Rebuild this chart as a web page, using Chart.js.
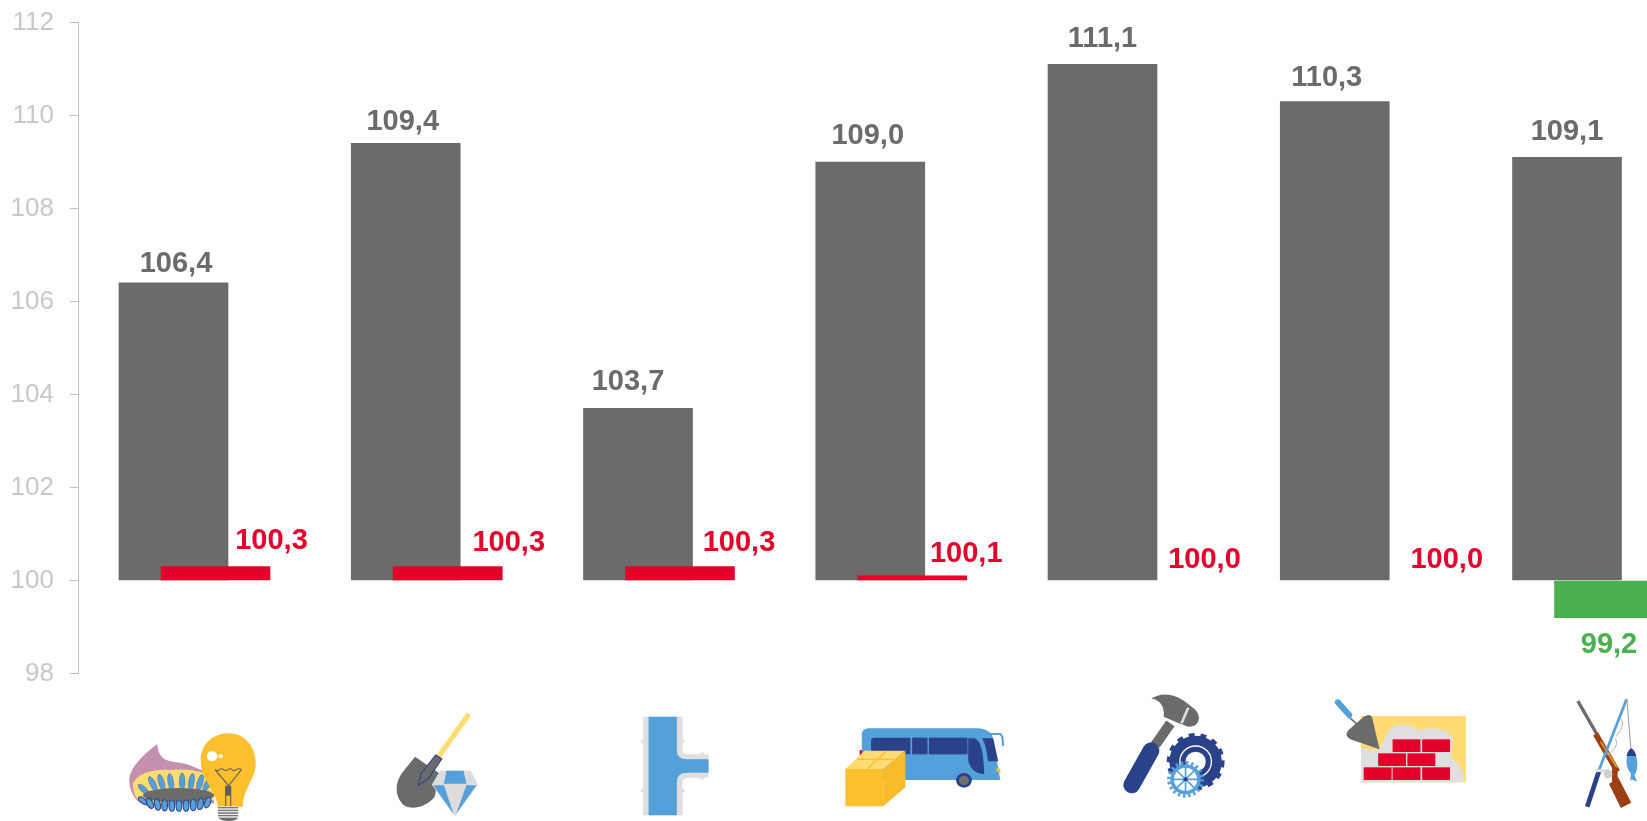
<!DOCTYPE html>
<html>
<head>
<meta charset="utf-8">
<title>Indices</title>
<script src="https://cdn.jsdelivr.net/npm/chart.js@4"></script>
<style>
    html, body { margin: 0; padding: 0; background: #fff; overflow: hidden; }
    #wrap { position: relative; width: 1647px; height: 821px; }
    #chart { position: absolute; left: 0; top: 0; }
    #icons { position: absolute; left: 0; top: 0; pointer-events: none; }
</style>
</head>
<body>
<div id="wrap">
    <canvas id="chart" width="1647" height="821"></canvas>

    <!-- Sector pictograms, coordinates are in crop space -->
    <svg id="icons" width="1647" height="821" viewBox="0 0 1647 821">
        <g transform="translate(0,640) scale(0.35714,0.33333)">
            <!-- gas burner -->
            <path fill="#c490ae" d="M440 312C400 345 360 385 362 425C365 465 385 490 410 497L600 490L590 395C560 395 540 375 510 370C480 362 445 370 440 312Z"/>
            <path fill="#ffdc73" d="M372 430C385 400 430 385 480 390C530 385 570 395 600 410V480L400 495C380 480 372 455 372 430Z"/>
            <g fill="#54a0da" stroke="#2a4289" stroke-width="1">
                <ellipse cx="402" cy="448" rx="8" ry="20" transform="rotate(-45 402 448)"/>
                <ellipse cx="428" cy="432" rx="8" ry="24" transform="rotate(-25 428 432)"/>
                <ellipse cx="452" cy="428" rx="8" ry="26" transform="rotate(-15 452 428)"/>
                <ellipse cx="478" cy="426" rx="8" ry="26" transform="rotate(-8 478 426)"/>
                <ellipse cx="510" cy="425" rx="8" ry="26"/>
                <ellipse cx="536" cy="426" rx="8" ry="26" transform="rotate(8 536 426)"/>
                <ellipse cx="560" cy="428" rx="8" ry="25" transform="rotate(15 560 428)"/>
                <ellipse cx="580" cy="434" rx="8" ry="22" transform="rotate(25 580 434)"/>
            </g>
            <ellipse cx="500" cy="466" rx="100" ry="22" fill="#6b6b6b"/>
            <g fill="#54a0da" stroke="#2a4289" stroke-width="3">
                <ellipse cx="400" cy="482" rx="7" ry="15" transform="rotate(-50 400 482)"/>
                <ellipse cx="420" cy="490" rx="8" ry="16" transform="rotate(-25 420 490)"/>
                <ellipse cx="441" cy="494" rx="8" ry="17" transform="rotate(-10 441 494)"/>
                <ellipse cx="461" cy="496" rx="8" ry="17"/>
                <ellipse cx="481" cy="497" rx="8" ry="17"/>
                <ellipse cx="501" cy="497" rx="8" ry="17"/>
                <ellipse cx="521" cy="497" rx="8" ry="17"/>
                <ellipse cx="541" cy="495" rx="8" ry="17"/>
                <ellipse cx="561" cy="492" rx="8" ry="17" transform="rotate(10 561 492)"/>
                <ellipse cx="581" cy="488" rx="8" ry="16" transform="rotate(20 581 488)"/>
            </g>
            <!-- bulb -->
            <path fill="#fcc02e" d="M640 280C690 280 716 325 716 370C716 420 680 445 680 500H610C605 450 562 420 562 360C562 315 595 280 640 280Z"/>
            <circle cx="594" cy="349" r="15" fill="#fff"/>
            <circle cx="618" cy="349" r="6" fill="#fff"/>
            <path fill="none" stroke="#5d5d5d" stroke-width="3" d="M602 389Q608 394 614 389T626 389T638 389T650 389T662 389T676 389L640 437L602 389ZM632 437V500M646 437V500"/>
            <rect x="632" y="437" width="14" height="30" fill="#5d5d5d"/>
            <rect x="610" y="499" width="57" height="38" fill="#e8e8e8"/>
            <path stroke="#7a7a7a" stroke-width="4" d="M610 503H667M610 511H667M610 519H667M610 527H667"/>
            <path fill="#6b6b6b" d="M612 533H666Q660 543 640 543T612 533Z"/>

            <!-- shovel and diamond -->
            <path stroke="#ffdc73" stroke-width="15" d="M1313 222L1228 350"/>
            <path fill="#6b6b6b" d="M1162 350L1230 400L1217 470C1190 505 1150 510 1130 495C1105 470 1105 430 1125 400Z"/>
            <path fill="#6b6b6b" stroke="#2a4289" stroke-width="3" d="M1220 345L1237 357L1200 415L1171 436L1178 402Z"/>
            <path fill="#dcdcdc" d="M1232 392H1318L1338 434L1273 530L1209 434Z"/>
            <path fill="#54a0da" d="M1250 392H1298L1306 431H1243ZM1213 436H1243L1270 522ZM1306 436H1334L1277 522Z"/>
        </g>

        <g transform="translate(560,660) scale(0.35714,0.33333)">
            <!-- pipe -->
            <g fill="#dfdfdf">
                <rect x="233" y="170" width="110" height="296"/>
                <path d="M343 265Q343 283 360 283H416V353H360Q343 353 343 371Z"/>
                <circle cx="232" cy="244" r="6"/><circle cx="343" cy="244" r="6"/>
                <circle cx="232" cy="392" r="6"/><circle cx="343" cy="392" r="6"/>
                <circle cx="398" cy="283" r="6"/><circle cx="398" cy="353" r="6"/>
            </g>
            <path fill="#54a0da" d="M248 170H327V270Q327 298 355 298H416V338H355Q327 338 327 366V466H248Z"/>

            <!-- bus and parcel -->
            <rect x="839" y="270" width="7" height="22" fill="#e4002b"/>
            <path fill="#54a0da" d="M845 360V225Q845 205 865 205H1170Q1195 205 1210 225L1233 360Z"/>
            <path fill="none" stroke="#54a0da" stroke-width="6" stroke-linecap="round" d="M1205 222H1232Q1241 225 1240 256"/>
            <g fill="#2a4289">
                <path d="M871 283V243Q871 233 881 233H981V283Z"/>
                <rect x="986" y="233" width="43" height="50"/>
                <rect x="1033" y="233" width="108" height="50"/>
                <path d="M1143 235H1160Q1185 240 1188 343Q1150 340 1143 300Z"/>
                <path d="M1182 235H1213L1227 304H1198Q1195 260 1182 235Z"/>
                <circle cx="1131" cy="361" r="22"/>
            </g>
            <circle cx="1131" cy="361" r="14" fill="#6f6f6f"/>
            <path fill="#fcc02e" d="M1220 326H1233V340Q1224 338 1220 326Z"/>
            <rect x="799" y="327" width="106" height="112" fill="#fcc02e"/>
            <path fill="#f8bb2b" d="M905 327L967 272V382L905 439Z"/>
            <path fill="#ffdc73" d="M799 327L853 272H967L905 327Z"/>
            <path fill="none" stroke="#fcc02e" stroke-width="4" d="M860 327L915 272M832 298H935"/>
        </g>

        <g transform="translate(1120,660) scale(0.33613,0.33333)">
            <!-- hammer and gears -->
            <path stroke="#6b6b6b" stroke-width="30" d="M150 190L105 255"/>
            <path stroke="#2a4289" stroke-width="50" stroke-linecap="round" d="M92 272L35 375"/>
            <path fill="#6b6b6b" d="M93 117C120 95 165 100 200 130L225 150Q245 175 225 195Q205 205 190 195L175 190L130 170C135 140 115 115 93 117Z"/>
            <path stroke="#dcdcdc" stroke-width="8" d="M203 143L183 190"/>
            <circle cx="225" cy="305" r="60" fill="none" stroke="#2a4289" stroke-width="36"/>
            <circle cx="225" cy="305" r="78" fill="none" stroke="#2a4289" stroke-width="16" stroke-dasharray="17 17.5"/>
            <circle cx="225" cy="305" r="38" fill="none" stroke="#2a4289" stroke-width="16"/>
            <circle cx="225" cy="305" r="47" fill="none" stroke="#fff" stroke-width="4"/>
            <circle cx="195" cy="358" r="42" fill="#fff"/>
            <circle cx="195" cy="358" r="40" fill="none" stroke="#54a0da" stroke-width="11"/>
            <circle cx="195" cy="358" r="50" fill="none" stroke="#54a0da" stroke-width="10" stroke-dasharray="7 8.7"/>
            <path stroke="#54a0da" stroke-width="5" d="M155 358H235M195 318V398M167 330L223 386M223 330L167 386"/>
            <circle cx="195" cy="358" r="6" fill="#2a4289"/>

            <!-- wall and trowel -->
            <rect x="717" y="168" width="312" height="199" fill="#ffdc73"/>
            <path fill="#dfdfdf" d="M717 367V265L770 270L795 220C810 190 850 185 890 210C930 200 980 205 990 235L985 290C1000 310 1030 330 1022 367Z"/>
            <g fill="#e4002b">
                <rect x="811" y="238" width="83" height="38"/><rect x="899" y="238" width="83" height="38"/>
                <rect x="768" y="280" width="83" height="38"/><rect x="855" y="280" width="83" height="38"/>
                <rect x="725" y="322" width="83" height="38"/><rect x="811" y="322" width="83" height="38"/><rect x="899" y="322" width="83" height="38"/>
            </g>
            <path stroke="#6b6b6b" stroke-width="5" d="M680 170L708 195"/>
            <path stroke="#54a0da" stroke-width="18" stroke-linecap="round" d="M648 127L682 165"/>
            <path fill="#6b6b6b" d="M738 165Q750 165 752 180L772 268L685 238Q665 225 680 210L725 170Z"/>

            <!-- rifle and fishing rod -->
            <path stroke="#6b6b6b" stroke-width="10" d="M1362 123L1420 225"/>
            <path stroke="#9c3f14" stroke-width="17" d="M1415 222L1480 335"/>
            <path stroke="#e8a020" stroke-width="5" d="M1430 245L1478 322"/>
            <path fill="#9c3f14" d="M1455 372L1482 352L1521 428L1490 444Z"/>
            <path stroke="#9c3f14" stroke-width="17" d="M1472 325L1472 365"/>
            <path fill="none" stroke="#bdbdbd" stroke-width="3" d="M1490 175Q1505 195 1475 230M1472 235Q1490 255 1450 285"/>
            <path stroke="#54a0da" stroke-width="8" d="M1507 118L1425 330"/>
            <path stroke="#2a4289" stroke-width="14" d="M1426 330L1390 440"/>
            <path stroke="#dfdfdf" stroke-width="9" d="M1415 332H1455"/>
            <circle cx="1452" cy="342" r="13" fill="#cfcfcf"/>
            <path stroke="#9a9a9a" stroke-width="3" d="M1508 118L1520 268"/>
            <path fill="#54a0da" d="M1521 265C1545 285 1542 335 1530 345L1538 365L1522 358L1518 365L1520 340C1500 320 1505 280 1521 265Z"/>
            <path fill="#2a4289" d="M1521 265Q1532 272 1536 288H1507Q1510 272 1521 265Z"/>
        </g>
    </svg>
</div>

<script>
// Sectors, left to right
const categories = ['Energy', 'Mining', 'Pipelines', 'Transport', 'Manufacturing', 'Construction', 'Agriculture'];
const grayValues = [106.4, 109.4, 103.7, 109.0, 111.1, 110.3, 109.1];
const accentValues = [100.3, 100.3, 100.3, 100.1, 100.0, 100.0, 99.2];
const yTicks = [98, 100, 102, 104, 106, 108, 110, 112];

// Label placement, hand tuned px (the original labels were moved around by hand)
const grayLabelShift = [2.5, -3, -10, -2.5, 0, -8, 0];
const grayLabelLift = [11, 13, 18.5, 18.5, 17.5, 15.5, 17.5];
const accentLabelShift = [56, 61, 59, 54, 60, 70, 0];
const accentLabelLift = [18, 16, 16, 13.5, 12.5, 12.5, 0];

const RED = '#e4002b';
const GREEN = '#4caf50';
const GRAY = '#6b6b6b';
const ACCENT_OFFSET = 0.1808; // accent bar sits to the right of the gray one

function formatValue(v) {
    return v.toFixed(1).replace('.', ',');
}

function accentColor(v) {
    if (v === 100) return 'transparent'; // no change, only the label shows
    return v < 100 ? GREEN : RED;
}

const valueLabels = {
    id: 'valueLabels',
    afterDatasetsDraw(chart) {
        const ctx = chart.ctx;
        const grayBars = chart.getDatasetMeta(0).data;
        const accentBars = chart.getDatasetMeta(1).data;
        ctx.save();
        ctx.font = 'bold 29px "Liberation Sans"';
        ctx.textAlign = 'center';
        ctx.textBaseline = 'alphabetic';
        grayBars.forEach(function (bar, i) {
            ctx.fillStyle = GRAY;
            ctx.fillText(formatValue(grayValues[i]), bar.x + grayLabelShift[i], bar.y - grayLabelLift[i]);
        });
        accentBars.forEach(function (bar, i) {
            const v = accentValues[i];
            ctx.fillStyle = v < 100 ? GREEN : RED;
            const y = v < 100 ? bar.y + 35 : bar.y - accentLabelLift[i];
            ctx.fillText(formatValue(v), bar.x + accentLabelShift[i], y);
        });
        ctx.restore();
    }
};

new Chart(document.getElementById('chart').getContext('2d'), {
    type: 'bar',
    plugins: [valueLabels],
    data: {
        datasets: [{
            label: 'Gray',
            data: categories.map((c, i) => ({ x: i, y: grayValues[i] })),
            backgroundColor: GRAY,
            order: 2
        }, {
            label: 'Accent',
            data: categories.map((c, i) => ({ x: i + ACCENT_OFFSET, y: accentValues[i] })),
            backgroundColor: accentValues.map(accentColor),
            order: 1
        }]
    },
    options: {
        responsive: false,
        animation: false,
        base: 100,
        grouped: false,
        barThickness: 109,
        layout: { padding: { top: 22.5, bottom: 147.5, left: 0, right: 0 } },
        plugins: { legend: { display: false }, tooltip: { enabled: false } },
        scales: {
            x: {
                type: 'linear',
                display: false,
                offset: false,
                min: -0.4112,
                max: 6.3444
            },
            y: {
                min: yTicks[0],
                max: yTicks[yTicks.length - 1],
                afterBuildTicks: function (scale) {
                    scale.ticks = yTicks.map(v => ({ value: v }));
                },
                afterFit: function (scale) {
                    scale.width = 78;
                    // labels may hang into the page padding
                    scale.paddingTop = 0;
                    scale.paddingBottom = 0;
                },
                ticks: {
                    color: '#c8c8c8',
                    padding: 16,
                    font: { family: '"Liberation Sans"', size: 26 }
                },
                grid: {
                    drawOnChartArea: false,
                    color: '#bfbfbf',
                    tickLength: 8,
                    lineWidth: 1
                },
                border: { color: '#bfbfbf', width: 1 }
            }
        }
    }
});
</script>
</body>
</html>
